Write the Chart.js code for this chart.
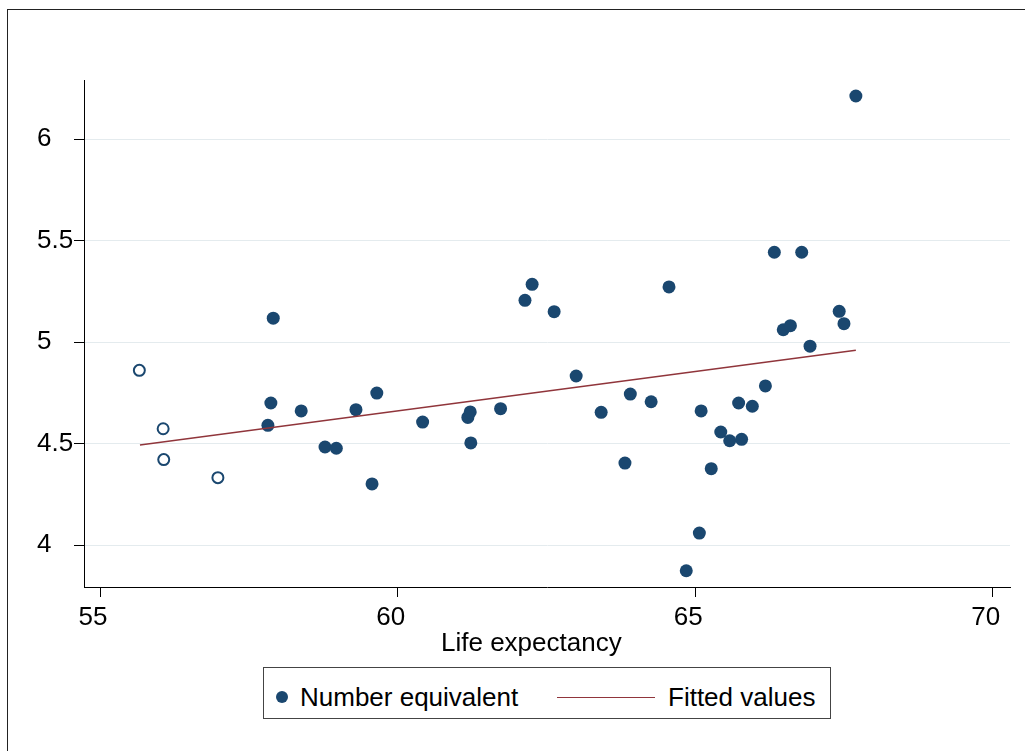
<!DOCTYPE html>
<html>
<head>
<meta charset="utf-8">
<script src="https://cdn.jsdelivr.net/npm/chart.js@4/dist/chart.umd.min.js"></script>
<style>
  html, body { margin: 0; padding: 0; background: #fff; overflow: hidden; }
  #wrap { position: relative; width: 1025px; height: 751px; font-family: 'Liberation Sans', Arial, sans-serif; }
  #frame { position: absolute; left: 7px; top: 9px; width: 2000px; height: 2000px; border-left: 1px solid #222; border-top: 1px solid #222; }
  canvas { position: absolute; left: 0; top: 0; }
  #xtitle { position: absolute; left: 441px; top: 629px; font-size: 26px; line-height: 26px; color: #000; white-space: nowrap; }
  #legend { position: absolute; left: 263px; top: 667px; width: 566px; height: 50px; border: 1px solid #444; background: #fff; }
  .lg-text { position: absolute; top: 16px; font-size: 26px; line-height: 26px; color: #000; white-space: nowrap; }
  .lg-dot { position: absolute; left: 12px; top: 23px; width: 12px; height: 12px; border-radius: 50%; background: #1a476f; }
  .lg-line { position: absolute; left: 293px; top: 29px; width: 98px; height: 0; border-top: 1.3px solid #90353b; }
</style>
</head>
<body>
<div id="wrap">
  <div id="frame"></div>
  <canvas id="chart" width="1025" height="751"></canvas>
  <div id="xtitle">Life expectancy</div>
  <div id="legend">
    <span class="lg-dot"></span>
    <span class="lg-text" style="left:36px">Number equivalent</span>
    <span class="lg-line"></span>
    <span class="lg-text" style="left:404px">Fitted values</span>
  </div>
</div>
<script>
// filled markers: life expectancy vs number equivalent
const lifeExp = [57.82, 57.87, 57.91, 58.38, 58.78, 58.97, 59.30, 59.57, 59.65, 60.42,
  61.18, 61.22, 61.23, 61.73, 62.14, 62.26, 62.63, 63.00, 63.42, 63.82,
  63.91, 64.26, 64.56, 64.85, 65.07, 65.10, 65.27, 65.43, 65.58, 65.73,
  65.78, 65.96, 66.18, 66.33, 66.48, 66.60, 66.79, 66.93, 67.42, 67.50, 67.70];
const numEquiv = [4.590, 4.700, 5.118, 4.661, 4.483, 4.477, 4.667, 4.301, 4.749, 4.606,
  4.629, 4.656, 4.503, 4.672, 5.206, 5.285, 5.150, 4.833, 4.654, 4.404,
  4.744, 4.706, 5.272, 3.873, 4.059, 4.661, 4.376, 4.557, 4.514, 4.700,
  4.521, 4.684, 4.784, 5.443, 5.061, 5.081, 5.443, 4.980, 5.152, 5.091, 6.213];

// hollow markers
const hollowX = [55.66, 56.06, 56.07, 56.98];
const hollowY = [4.861, 4.573, 4.421, 4.332];

// fitted values (end points of the linear fit)
const fitX = [55.67, 67.70];
const fitY = [4.493, 4.960];

const xTicks = [55, 60, 65, 70];
const yTicks = [4, 4.5, 5, 5.5, 6];

const navy = '#1a476f';
const maroon = '#90353b';

function pts(xs, ys) {
  return xs.map((x, i) => ({ x: x, y: ys[i] }));
}

Chart.defaults.font.family = "'Liberation Sans', Arial, sans-serif";
Chart.defaults.font.size = 26;
Chart.defaults.color = '#000';

new Chart(document.getElementById('chart'), {
  type: 'scatter',
  data: {
    datasets: [
      {
        type: 'line',
        label: 'Fitted values',
        data: pts(fitX, fitY),
        borderColor: maroon,
        borderWidth: 1.3,
        pointRadius: 0,
        fill: false,
        order: 0
      },
      {
        label: 'Number equivalent',
        data: pts(lifeExp, numEquiv),
        pointRadius: 6.5,
        pointBackgroundColor: navy,
        pointBorderWidth: 0,
        order: 1
      },
      {
        label: 'hollow',
        data: pts(hollowX, hollowY),
        pointRadius: 5.5,
        pointBackgroundColor: '#fff',
        pointBorderColor: navy,
        pointBorderWidth: 2,
        order: 2
      }
    ]
  },
  options: {
    responsive: false,
    animation: false,
    devicePixelRatio: 1,
    layout: { padding: { left: 37, top: 80, right: 15, bottom: 104 } },
    plugins: {
      legend: { display: false },
      tooltip: { enabled: false }
    },
    scales: {
      x: {
        type: 'linear',
        min: 54.73,
        max: 70.29,
        afterBuildTicks: s => { s.ticks = xTicks.map(v => ({ value: v })); },
        afterFit: s => { s.height = 60; },
        grid: { drawOnChartArea: false, tickLength: 10, tickColor: '#000' },
        border: { color: '#000', width: 1 },
        ticks: { padding: 5, labelOffset: -7, maxRotation: 0, callback: v => String(v) }
      },
      y: {
        type: 'linear',
        min: 3.793,
        max: 6.292,
        afterBuildTicks: s => { s.ticks = yTicks.map(v => ({ value: v })); },
        afterFit: s => { s.width = 47; },
        grid: { color: '#e4ebee', lineWidth: 1, tickLength: 10, tickColor: '#000' },
        border: { color: '#000', width: 1 },
        ticks: { padding: 0, crossAlign: 'far', callback: v => String(v) }
      }
    }
  }
});
</script>
</body>
</html>
